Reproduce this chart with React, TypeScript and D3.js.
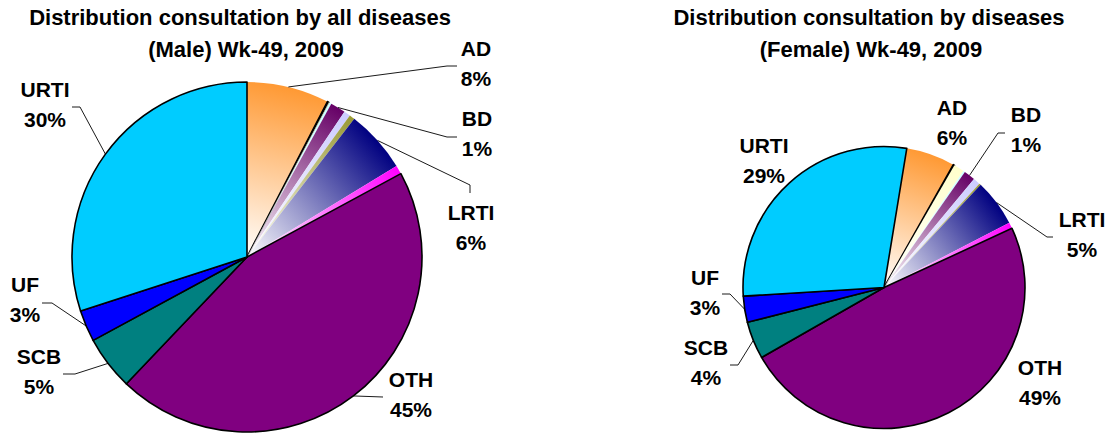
import React from 'react';
import * as d3 from 'd3';

// slice order as drawn, clockwise from the first slice
const categories = ['AD', 'AJS', 'AWD', 'MEN', 'BD', 'DF', 'HEP', 'LRTI', 'MAL', 'OTH', 'SCB', 'UF', 'URTI'];
const maleValues = [7.6, 0.15, 0.05, 0.2, 1.4, 0.6, 0.5, 5.8, 0.8, 45.0, 5.0, 2.9, 30.0];
const femaleValues = [5.6, 0.15, 1.2, 0.2, 1.3, 0.8, 0.2, 5.4, 0.7, 48.7, 4.3, 3.0, 28.6];
const sliceColors = ['#FF9933', '#000000', '#FFFFCC', '#CCFFFF', '#660066', '#CCCCFF', '#999933', '#000080', '#FF00FF', '#800080', '#008080', '#0000FF', '#00CCFF'];
const shaded = ['AD', 'AWD', 'MEN', 'BD', 'DF', 'HEP', 'LRTI', 'MAL'];
const labelled = ['AD', 'BD', 'LRTI', 'OTH', 'SCB', 'UF', 'URTI'];

type Pt = [number, number];
interface PieLayout {
  id: string;
  values: number[];
  cx: number;
  cy: number;
  r: number;
  startDeg: number;
  title: { text: string; x: number; y: number }[];
  labels: Record<string, Pt>;
  leaders: Record<string, Pt[]>;
}

const pies: PieLayout[] = [
  {
    id: 'male',
    values: maleValues,
    cx: 247, cy: 257, r: 175, startDeg: 0,
    title: [
      { text: 'Distribution consultation by all diseases', x: 240, y: 25 },
      { text: '(Male) Wk-49, 2009', x: 246, y: 57 },
    ],
    labels: {
      AD: [476, 56], BD: [477, 126], LRTI: [471, 220], OTH: [411, 387],
      SCB: [39, 364], UF: [25, 292], URTI: [45, 97],
    },
    leaders: {
      AD: [[447, 66], [457, 66]],
      BD: [[447, 137], [457, 137]],
      LRTI: [[470, 185], [470, 193]],
      OTH: [[383, 397]],
      SCB: [[75, 374], [63, 374]],
      UF: [[52, 303], [42, 303]],
      URTI: [[80, 107], [72, 107]],
    },
  },
  {
    id: 'female',
    values: femaleValues,
    cx: 884, cy: 287.5, r: 141, startDeg: 9.3,
    title: [
      { text: 'Distribution consultation by diseases', x: 869, y: 25 },
      { text: '(Female) Wk-49, 2009', x: 871, y: 57 },
    ],
    labels: {
      AD: [952, 115], BD: [1026, 122], LRTI: [1082, 227], OTH: [1040, 375],
      SCB: [706, 355], UF: [705, 285], URTI: [764, 153],
    },
    leaders: {
      BD: [[998, 133], [1005, 133]],
      LRTI: [[1047, 237], [1053, 237]],
      SCB: [[738, 365], [730, 365]],
      UF: [[730, 294], [722, 294]],
    },
  },
];

const font = "'Liberation Sans', Arial, Helvetica, sans-serif";

function PieChart({ p }: { p: PieLayout }) {
  const total = d3.sum(p.values);
  const start = (p.startDeg * Math.PI) / 180;
  const arcs = d3.pie<number>().sort(null).startAngle(start).endAngle(start + 2 * Math.PI)(p.values);
  const arc = d3.arc<d3.PieArcDatum<number>>().innerRadius(0).outerRadius(p.r);
  const edge = (a: d3.PieArcDatum<number>, r: number): Pt => {
    const m = (a.startAngle + a.endAngle) / 2;
    return [Math.sin(m) * r, -Math.cos(m) * r];
  };
  const line = d3.line();

  return (
    <g>
      <defs>
        {arcs.map((a, i) => {
          const [x2, y2] = edge(a, p.r);
          return (
            <linearGradient key={i} id={`${p.id}-g${i}`} gradientUnits="userSpaceOnUse" x1={0} y1={0} x2={x2} y2={y2}>
              <stop offset="0" stopColor="#ffffff" />
              <stop offset="1" stopColor={sliceColors[i]} />
            </linearGradient>
          );
        })}
      </defs>
      {p.title.map((t, i) => (
        <text key={i} x={t.x} y={t.y} textAnchor="middle" fontFamily={font} fontWeight="bold" fontSize={22} fill="#000">
          {t.text}
        </text>
      ))}
      <g transform={`translate(${p.cx},${p.cy})`}>
        {arcs.map((a, i) => {
          const cat = categories[i];
          const isShaded = shaded.includes(cat);
          return (
            <path
              key={cat}
              d={arc(a) || ''}
              fill={isShaded ? `url(#${p.id}-g${i})` : sliceColors[i]}
              stroke={isShaded ? 'none' : '#000'}
              strokeWidth={isShaded ? 0 : 1.6}
              strokeLinejoin="round"
            />
          );
        })}
      </g>
      {arcs.map((a, i) => {
        const cat = categories[i];
        const pts = p.leaders[cat];
        if (!pts) return null;
        const [sx, sy] = edge(a, p.r);
        const path = line([[p.cx + sx, p.cy + sy], ...pts]);
        return <path key={cat} d={path || ''} fill="none" stroke="#000" strokeWidth={0.9} />;
      })}
      {arcs.map((a, i) => {
        const cat = categories[i];
        if (!labelled.includes(cat)) return null;
        const [lx, ly] = p.labels[cat];
        const pct = Math.round((p.values[i] / total) * 100);
        return (
          <text key={cat} textAnchor="middle" fontFamily={font} fontWeight="bold" fontSize={21} fill="#000">
            <tspan x={lx} y={ly}>{cat}</tspan>
            <tspan x={lx} y={ly + 30}>{pct}%</tspan>
          </text>
        );
      })}
    </g>
  );
}

export default function App() {
  return (
    <div style={{ position: 'absolute', left: 0, top: 0 }}>
      <svg width={1109} height={435} style={{ display: 'block', background: '#fff' }}>
        {pies.map((p) => (
          <PieChart key={p.id} p={p} />
        ))}
      </svg>
    </div>
  );
}
